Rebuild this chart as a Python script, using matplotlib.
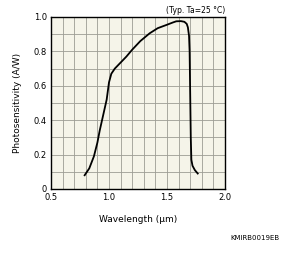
import matplotlib.pyplot as plt
import numpy as np

# spectral response
wavelength = [0.79, 0.83, 0.87, 0.90, 0.92, 0.95, 0.98, 1.00, 1.02, 1.05, 1.10, 1.15,
              1.20, 1.27, 1.35, 1.42, 1.50, 1.55, 1.58, 1.62, 1.65, 1.67, 1.68, 1.69,
              1.695, 1.70, 1.705, 1.71, 1.72, 1.74, 1.765]
response = [0.08, 0.12, 0.19, 0.27, 0.34, 0.43, 0.52, 0.62, 0.67, 0.70, 0.735, 0.77,
            0.81, 0.86, 0.905, 0.935, 0.955, 0.968, 0.975, 0.976, 0.972, 0.96, 0.94, 0.89,
            0.80, 0.55, 0.30, 0.17, 0.135, 0.11, 0.09]

xticks = [0.5, 1.0, 1.5, 2.0]
yticks = [0, 0.2, 0.4, 0.6, 0.8, 1.0]
yticklabels = ['0', '0.2', '0.4', '0.6', '0.8', '1.0']

fig = plt.figure(figsize=(3.0, 2.58), dpi=100)
ax = fig.add_axes([51/300, 1-189/258, 174/300, 172/258])
ax.set_facecolor('#f5f4e9')
ax.plot(wavelength, response, color='black', lw=1.3)
ax.set_xlim(0.5, 2.0)
ax.set_ylim(0, 1.0)
ax.set_xticks(np.arange(0.5, 2.01, 0.1), minor=True)
ax.set_yticks(np.arange(0, 1.01, 0.1), minor=True)
ax.set_xticks(xticks)
ax.set_xticklabels(['0.5', '1.0', '1.5', '2.0'])
ax.set_yticks(yticks)
ax.set_yticklabels(yticklabels)
ax.grid(which='both', color='#9c9c94', lw=0.6)
ax.tick_params(which='both', length=0, labelsize=6, pad=3)
for s in ax.spines.values():
    s.set_linewidth(1.0)
ax.set_xlabel('Wavelength (µm)', fontsize=6.5, labelpad=9)
ax.set_ylabel('Photosensitivity (A/W)', fontsize=6.5, labelpad=8)
ax.text(1.0, 1.01, '(Typ. Ta=25 °C)', transform=ax.transAxes, ha='right', va='bottom', fontsize=5.5)
fig.text(255/300, 1-238/258, 'KMIRB0019EB', ha='center', va='center', fontsize=5)
fig.savefig('out.png', dpi=100)
